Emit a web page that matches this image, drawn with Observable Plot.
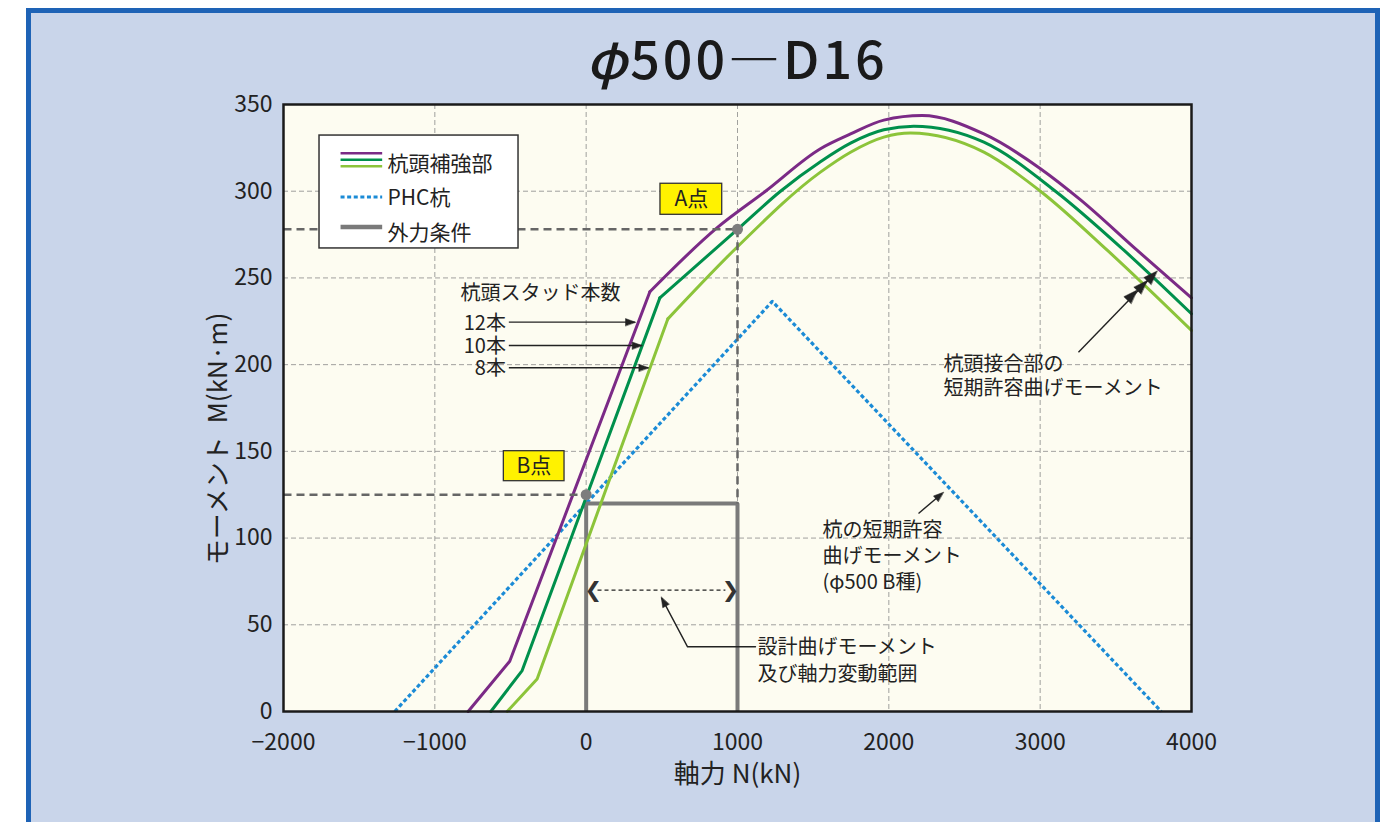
<!DOCTYPE html>
<html lang="ja">
<head>
<meta charset="utf-8">
<script src="https://cdn.jsdelivr.net/npm/d3@7"></script>
<script src="https://cdn.jsdelivr.net/npm/@observablehq/plot@0.6"></script>
<style>
  html, body { margin: 0; padding: 0; background: #ffffff; }
  body { width: 1392px; height: 822px; position: relative; overflow: hidden;
         font-family: "Noto Sans CJK JP", "Noto Sans", sans-serif; }
  #panel { position: absolute; left: 26px; top: 8px; width: 1354px; height: 900px;
           box-sizing: border-box; border: 5px solid #1e63b6; background: #c9d5ea; }
  #title { position: absolute; left: 283px; width: 908px; top: 31px; margin: 0;
           text-align: center; font-size: 52px; line-height: 1; font-weight: 500;
           letter-spacing: 3px; color: #1a1a1a; }
  #title i { font-style: italic; }
  #chart { position: absolute; left: 0; top: 0; }
</style>
</head>
<body>
<div id="panel"></div>
<h1 id="title"><i>φ</i>500—D16</h1>
<div id="chart"></div>
<script>
// ---- axes ----
const xTicks = [-2000, -1000, 0, 1000, 2000, 3000, 4000];
const yTicks = [0, 50, 100, 150, 200, 250, 300, 350];
const xGrid = [-1000, 0, 1000, 2000, 3000];
const yGrid = [50, 100, 150, 200, 250, 300];
const xLabel = "軸力 N(kN)";
const yLabel = "モーメント\u2002M(kN·m)";

// ---- 杭頭補強部 (stud count series) ----
const studs = ["12本", "10本", "8本"];
const studColors = ["#7b2a86", "#00904c", "#8cc43a"];
const n12 = [-780, -505, 421, 866, 1185, 1548, 1747, 1967, 2220, 2628, 3002, 3267, 3640, 4000];
const m12 = [0, 29, 242, 279, 300, 324.5, 333, 341, 343.6, 333, 313, 295, 266, 238.5];
const n10 = [-630, -423, 487, 1000, 1284, 1548, 1747, 1967, 2165, 2628, 3101, 3553, 4000];
const m10 = [0, 23.6, 238.5, 278, 300, 317, 327.7, 335.4, 337.5, 328.3, 300, 266, 229.3];
const n8 = [-522, -324, 540, 1000, 1548, 1747, 1967, 2143, 2628, 3002, 3443, 4000];
const m8 = [0, 18.8, 226.4, 268, 311, 322.5, 331.2, 333.5, 322.5, 300, 266, 219.7];
const straightCount = 3; // first three points of each curve are joined by straight segments

// ---- PHC杭 ----
const nPhc = [-1265, 1230, 3800];
const mPhc = [0, 236.5, 0];

// ---- 外力条件 ----
const nLoad = [0, 0, 1000, 1000];
const mLoad = [0, 120, 120, 0];
const pointNames = ["A点", "B点"];
const pointN = [1000, 0];
const pointM = [278, 125];

// ---- legend ----
const legendNames = ["杭頭補強部", "PHC杭", "外力条件"];

// ---------- tables ----------
const curveSets = [[n12, m12], [n10, m10], [n8, m8]];
const lower = [], upper = [];
curveSets.forEach(([ns, ms], k) => {
  ns.forEach((n, i) => {
    const r = {n, m: ms[i], s: studs[k]};
    if (i < straightCount) lower.push(r);
    if (i >= straightCount - 1) upper.push(r);
  });
});
const phc = nPhc.map((n, i) => ({n, m: mPhc[i]}));
const load = nLoad.map((n, i) => ({n, m: mLoad[i]}));
const points = pointNames.map((t, i) => ({t, n: pointN[i], m: pointM[i]}));

const fmt = d => d < 0 ? "−" + Math.abs(d) : String(d);
const headShape = {
  draw(ctx, l, r) { ctx.moveTo(0, -l); ctx.lineTo(-r, 0); ctx.lineTo(r, 0); ctx.closePath(); }
};
const ink = "#222";
const gray = "#7a7a7a";

const chart = Plot.plot({
  width: 1392,
  height: 822,
  marginLeft: 283,
  marginRight: 201,
  marginTop: 104,
  marginBottom: 111,
  x: {domain: [-2000, 4000], label: null},
  y: {domain: [0, 350], label: null},
  color: {type: "ordinal", domain: studs, range: studColors},
  style: {background: "transparent", fontFamily: "'Noto Sans CJK JP', sans-serif", color: ink, overflow: "visible"},
  marks: [
    Plot.frame({fill: "#fdfcf1", stroke: null}),
    Plot.gridX({ticks: xGrid, stroke: "#8a8a8a", strokeOpacity: 0.8, strokeWidth: 1, strokeDasharray: "5,3"}),
    Plot.gridY({ticks: yGrid, stroke: "#8a8a8a", strokeOpacity: 0.8, strokeWidth: 1, strokeDasharray: "5,3"}),
    Plot.axisX({ticks: xTicks, tickSize: 0, tickPadding: 22, fontSize: 23, tickFormat: fmt, label: null}),
    Plot.axisY({ticks: yTicks, tickSize: 0, tickPadding: 11, fontSize: 23, label: null}),
    Plot.text([xLabel], {frameAnchor: "bottom", dy: 71, fontSize: 26, text: d => d}),
    Plot.text([yLabel], {frameAnchor: "left", textAnchor: "middle", dx: -65, dy: 31, rotate: -90, fontSize: 26, text: d => d}),

    // PHC pile allowable moment
    Plot.line(phc, {x: "n", y: "m", stroke: "#1b8bd6", strokeWidth: 3.2, strokeDasharray: "4,2.6", strokeLinecap: "butt"}),

    // external force box
    Plot.line(load, {x: "n", y: "m", stroke: gray, strokeWidth: 4, strokeLinejoin: "miter", strokeLinecap: "butt"}),

    // pile head reinforcement curves
    Plot.line(lower, {x: "n", y: "m", z: "s", stroke: "s", strokeWidth: 3, curve: "linear"}),
    Plot.line(upper, {x: "n", y: "m", z: "s", stroke: "s", strokeWidth: 3, curve: "monotone-x"}),

    // A / B point dashed guides
    Plot.link(points, {x1: -2000, x2: "n", y1: "m", y2: "m", stroke: "#666", strokeWidth: 2.5, strokeDasharray: "8,5"}),
    Plot.link(points.filter(p => p.n > 0), {x1: "n", x2: "n", y1: "m", y2: mLoad[1], stroke: "#666", strokeWidth: 2.5, strokeDasharray: "8,5"}),
    Plot.dot(points, {x: "n", y: "m", r: 5.5, fill: "#7d7d7d", stroke: null}),
    Plot.rect(points, {x1: d => d.n > 0 ? 491 : -544, x2: d => d.n > 0 ? 899 : -143,
                       y1: d => d.n > 0 ? 286.4 : 132.8, y2: d => d.n > 0 ? 304.3 : 150.1,
                       fill: "#fff200", stroke: "#333", strokeWidth: 1.3}),
    Plot.text(points, {x: d => d.n > 0 ? 695 : -345, y: d => d.n > 0 ? 295.3 : 141.4, text: "t", fontSize: 21}),

    // design moment range arrow
    Plot.link([{a: 75, b: 920, m: 70}], {x1: "a", x2: "b", y1: "m", y2: "m", stroke: ink, strokeWidth: 1.3, strokeDasharray: "4,3"}),
    Plot.text([{n: 47, t: "❮"}, {n: 954, t: "❯"}], {x: "n", y: 70, text: "t", fontSize: 21, fontWeight: "bold", fill: "#333", fontFamily: "DejaVu Sans"}),

    // leaders
    Plot.link([
      {a: -511, b: 322, c: 224.5, d: 224.5},
      {a: -511, b: 366, c: 211, d: 211},
      {a: -511, b: 410, c: 198.2, d: 198.2},
      {a: 2196, b: 2350, c: 114.2, d: 125.6},
      {a: 3253, b: 3760, c: 207.2, d: 252.8}
    ], {x1: "a", x2: "b", y1: "c", y2: "d", stroke: ink, strokeWidth: 1.4}),
    Plot.line([{n: 1119, m: 37.3}, {n: 670, m: 37.3}, {n: 500, m: 65.2}], {x: "n", y: "m", stroke: ink, strokeWidth: 1.4}),
    Plot.vector([
      {n: 326, m: 224.5, a: 90}, {n: 370, m: 211, a: 90}, {n: 414, m: 198.2, a: 90},
      {n: 2361, m: 126.4, a: 50}, {n: 496, m: 65.9, a: -28}
    ], {x: "n", y: "m", rotate: "a", length: 10, r: 3.6, anchor: "end", shape: headShape, fill: ink, stroke: ink, strokeWidth: 0.5}),
    Plot.vector([
      {n: 3641, m: 243, a: 44}, {n: 3707, m: 248.5, a: 44}, {n: 3773, m: 254, a: 44}
    ], {x: "n", y: "m", rotate: "a", length: 14, r: 5, anchor: "end", shape: headShape, fill: ink, stroke: ink, strokeWidth: 0.5}),

    // annotation texts
    Plot.text(["杭頭スタッド本数"], {x: -830, y: 241, text: d => d, textAnchor: "start", fontSize: 20}),
    Plot.text(["杭頭接合部の\n短期許容曲げモーメント"], {x: 2361, y: 193.8, text: d => d, textAnchor: "start", fontSize: 20, lineHeight: 1.18}),
    Plot.text(["杭の短期許容\n曲げモーメント\n(φ500 B種)"], {x: 1562, y: 90.5, text: d => d, textAnchor: "start", fontSize: 20, lineHeight: 1.3}),
    Plot.text(["設計曲げモーメント\n及び軸力変動範囲"], {x: 1132, y: 30.4, text: d => d, textAnchor: "start", fontSize: 20, lineHeight: 1.33}),
    Plot.text([studs.join("\n")], {x: -530, y: 211, text: d => d, textAnchor: "end", fontSize: 20, lineHeight: 1.13}),

    // legend
    Plot.rect([{a: -1762, b: -447, c: 267, d: 332.1}], {x1: "a", x2: "b", y1: "c", y2: "d", fill: "#ffffff", stroke: "#333", strokeWidth: 1.5}),
    Plot.link(studs.map((s, i) => ({s, m: [321.9, 318.1, 314.4][i]})), {x1: -1623, x2: -1348, y1: "m", y2: "m", stroke: "s", strokeWidth: 2.6}),
    Plot.link([{m: 296.6}], {x1: -1623, x2: -1348, y1: "m", y2: "m", stroke: "#1b8bd6", strokeWidth: 3, strokeDasharray: "4,2.6"}),
    Plot.link([{m: 279.3}], {x1: -1623, x2: -1348, y1: "m", y2: "m", stroke: gray, strokeWidth: 4.5}),
    Plot.text([legendNames.join("\n")], {x: -1313, y: 298.2, text: d => d, textAnchor: "start", fontSize: 21, lineHeight: 1.63}),

    Plot.frame({stroke: "#1a1a1a", strokeWidth: 2.5})
  ]
});
document.getElementById("chart").appendChild(chart);
</script>
</body>
</html>
